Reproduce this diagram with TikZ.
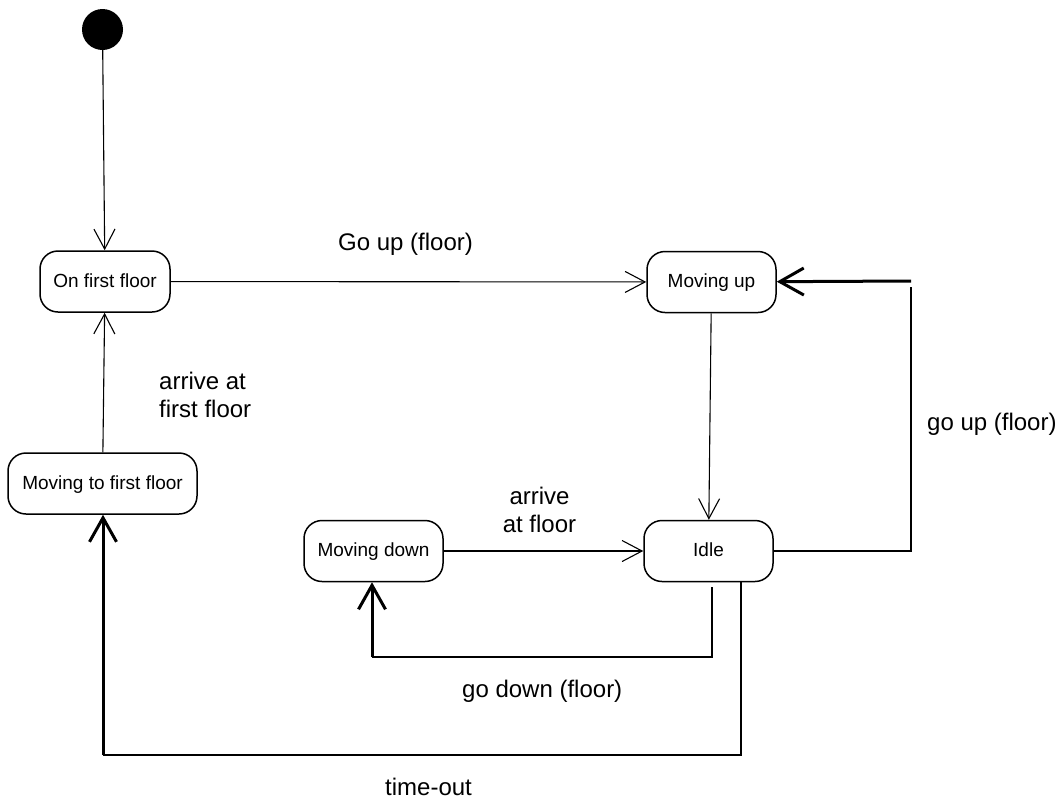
\documentclass[tikz,border=0pt]{standalone}
\usepackage{fontspec}
\setmainfont{Liberation Sans}
\usetikzlibrary{arrows.meta}
\begin{document}
\begin{tikzpicture}[x=1pt,y=-1pt,
  state/.style={draw, line width=1.5pt, rounded corners=18pt, minimum height=61pt, inner sep=0pt, text height=14pt, text depth=2.5pt, font=\fontsize{19}{23}\selectfont},
  lbl/.style={inner sep=0pt, font=\fontsize{24}{28}\selectfont},
  tl/.style={line width=1.1pt, -{Straight Barb[length=20pt,width=21pt]}},
  plain/.style={line width=1.6pt},
  tk/.style={line width=3pt, -{Straight Barb[length=24pt,width=27pt]}}]
\useasboundingbox (0,0) rectangle (1056,801);
\node[circle, fill=black, minimum size=41pt, inner sep=0pt] (init) at (102.5,29.5) {};
\node[state, minimum width=130pt] (onfirst) at (105,281.5) {On first floor};
\node[state, minimum width=129pt] (movingup) at (711.5,282) {Moving up};
\node[state, minimum width=129pt] (idle) at (708.5,551) {Idle};
\node[state, minimum width=139pt] (movingdown) at (373.5,551) {Moving down};
\node[state, minimum width=189pt] (mtff) at (102.5,483.5) {Moving to first floor};

\node[lbl, anchor=base west] (lgoup) at (338,250) {Go up (floor)};
\node[lbl, anchor=base west, align=left] (larrive1) at (159,417) {arrive at\\first floor};
\node[lbl, anchor=base west] (lgoup2) at (927,430) {go up (floor)};
\node[lbl, anchor=base, align=center] (larrive2) at (539.5,532) {arrive\\at floor};
\node[lbl, anchor=base west] (lgodown) at (462,697) {go down (floor)};
\node[lbl, anchor=base west] (ltimeout) at (385,795) {time-out};

\draw[tl] (init) -- (onfirst);
\draw[tl] (onfirst) -- (movingup);
\draw[tl] (movingup) -- (idle);
\draw[tl] (movingdown) -- (idle);
\draw[tl] (mtff) -- (onfirst);

\coordinate (gu1) at (911,551);
\coordinate (gu2) at (911,287);
\coordinate (gu3) at (911,281);
\draw[plain] (idle) -- (gu1) -- (gu2);
\draw[tk] (gu3) -- (movingup);

\coordinate (gd1) at (712,587);
\coordinate (gd2) at (712,657);
\coordinate (gd3) at (372,657);
\draw[plain] (gd1) -- (gd2) -- (gd3);
\draw[tk] (gd3) -- (gd3 |- movingdown.south);

\coordinate (to1) at (741,755);
\coordinate (to2) at (103,755);
\draw[plain] (idle.south -| to1) -- (to1) -- (to2);
\draw[tk] (to2) -- (to2 |- mtff.south);
\end{tikzpicture}
\end{document}
